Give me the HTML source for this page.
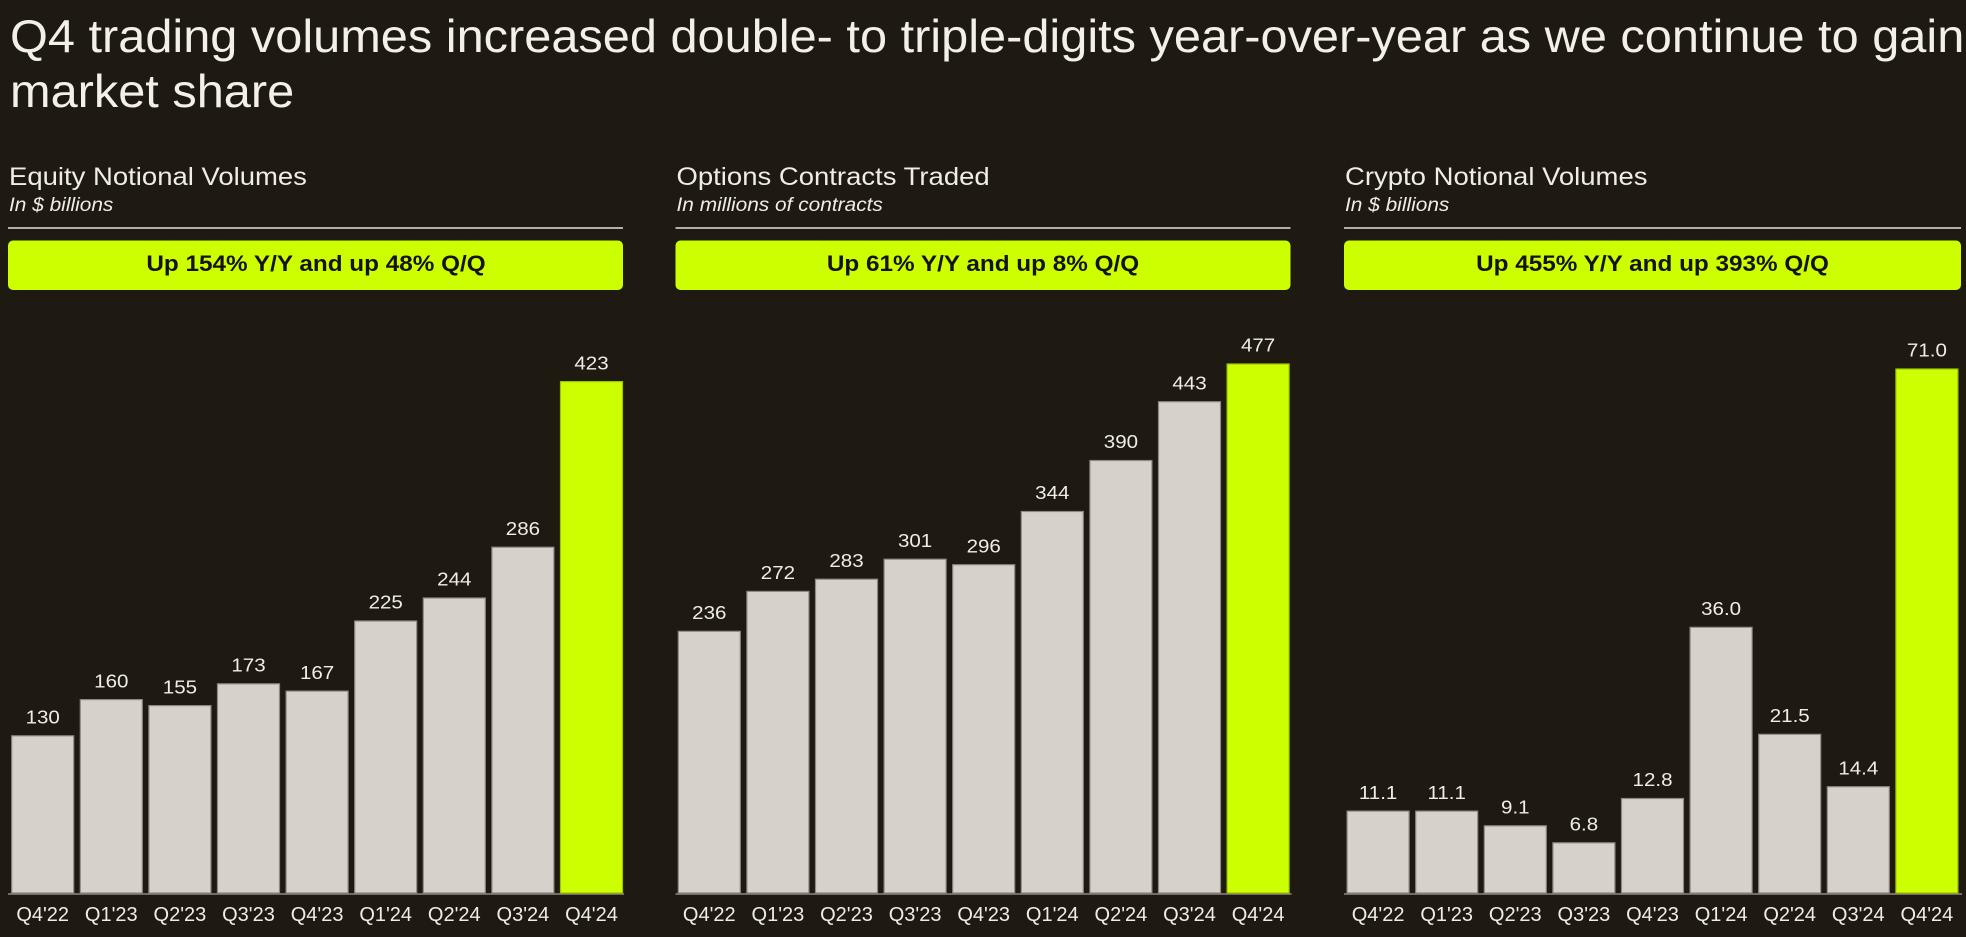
<!DOCTYPE html>
<html><head><meta charset="utf-8">
<style>
html,body{margin:0;padding:0;background:#1e1911;}
svg{display:block;}
text{font-family:"Liberation Sans",Arial,sans-serif;}
</style></head>
<body>
<svg width="1966" height="937" viewBox="0 0 1966 937" xmlns="http://www.w3.org/2000/svg">
<rect x="0" y="0" width="1966" height="937" fill="#1e1911"/>
<!-- Title -->
<g fill="#f3f0ea">
<text transform="translate(10,52) scale(1.059,1)" font-size="46">Q4 trading volumes increased double- to triple-digits year-over-year as we continue to gain</text>
<text transform="translate(10,107) scale(1.059,1)" font-size="46">market share</text>
</g>
<!-- Headers -->
<g fill="#f0ede7">
<text transform="translate(9,185) scale(1.1,1)" font-size="25">Equity Notional Volumes</text>
<text transform="translate(9,211) scale(1.07,1)" font-size="19.5" font-style="italic">In $ billions</text>
<text transform="translate(676.5,185) scale(1.1,1)" font-size="25">Options Contracts Traded</text>
<text transform="translate(676.5,211) scale(1.07,1)" font-size="19.5" font-style="italic">In millions of contracts</text>
<text transform="translate(1345,185) scale(1.1,1)" font-size="25">Crypto Notional Volumes</text>
<text transform="translate(1345,211) scale(1.07,1)" font-size="19.5" font-style="italic">In $ billions</text>
</g>
<!-- Rules -->
<g fill="#b3afa7">
<rect x="8" y="227" width="615" height="2"/>
<rect x="675.5" y="227" width="615" height="2"/>
<rect x="1344" y="227" width="617" height="2"/>
</g>
<!-- Boxes -->
<g fill="#ccff00">
<rect x="8" y="240.5" width="615" height="49.5" rx="5"/>
<rect x="675.5" y="240.5" width="615" height="49.5" rx="5"/>
<rect x="1344" y="240.5" width="617" height="49.5" rx="5"/>
</g>
<g fill="#15120a" font-weight="bold" font-size="22.5" text-anchor="middle">
<text transform="translate(316,271) scale(1.08,1)">Up 154% Y/Y and up 48% Q/Q</text>
<text transform="translate(983,271) scale(1.08,1)">Up 61% Y/Y and up 8% Q/Q</text>
<text transform="translate(1652.5,271) scale(1.08,1)">Up 455% Y/Y and up 393% Q/Q</text>
</g>
<!-- Axis lines -->
<g fill="#716d66">
<rect x="8" y="893" width="616" height="2"/>
<rect x="675.5" y="893" width="616" height="2"/>
<rect x="1344" y="893" width="618" height="2"/>
</g>
<!-- Chart 1 bars -->
<g fill="#d6d1cb" stroke="#8e8982" stroke-width="1.2">
<rect x="11.7" y="735.8" width="62" height="157.2"/>
<rect x="80.3" y="699.6" width="62" height="193.4"/>
<rect x="148.9" y="705.6" width="62" height="187.4"/>
<rect x="217.5" y="683.8" width="62" height="209.2"/>
<rect x="286.1" y="691.1" width="62" height="201.9"/>
<rect x="354.7" y="621.0" width="62" height="272.0"/>
<rect x="423.3" y="598.0" width="62" height="295.0"/>
<rect x="491.9" y="547.2" width="62" height="345.8"/>
</g>
<rect x="560.5" y="381.6" width="62" height="511.4" fill="#ccff00" stroke="#9fc400" stroke-width="1.2"/>
<!-- Chart 2 bars -->
<g fill="#d6d1cb" stroke="#8e8982" stroke-width="1.2">
<rect x="678.3" y="631.3" width="62" height="261.7"/>
<rect x="746.9" y="591.4" width="62" height="301.6"/>
<rect x="815.5" y="579.2" width="62" height="313.8"/>
<rect x="884.1" y="559.2" width="62" height="333.8"/>
<rect x="952.7" y="564.7" width="62" height="328.3"/>
<rect x="1021.3" y="511.5" width="62" height="381.5"/>
<rect x="1089.9" y="460.5" width="62" height="432.5"/>
<rect x="1158.5" y="401.7" width="62" height="491.3"/>
</g>
<rect x="1227.1" y="364.0" width="62" height="529.0" fill="#ccff00" stroke="#9fc400" stroke-width="1.2"/>
<!-- Chart 3 bars -->
<g fill="#d6d1cb" stroke="#8e8982" stroke-width="1.2">
<rect x="1347.1" y="811.1" width="62" height="81.9"/>
<rect x="1415.7" y="811.1" width="62" height="81.9"/>
<rect x="1484.3" y="825.8" width="62" height="67.2"/>
<rect x="1552.9" y="842.8" width="62" height="50.2"/>
<rect x="1621.5" y="798.5" width="62" height="94.5"/>
<rect x="1690.1" y="627.3" width="62" height="265.7"/>
<rect x="1758.7" y="734.3" width="62" height="158.7"/>
<rect x="1827.3" y="786.7" width="62" height="106.3"/>
</g>
<rect x="1895.9" y="369.0" width="62" height="524.0" fill="#ccff00" stroke="#9fc400" stroke-width="1.2"/>
<!-- Value labels -->
<g fill="#f0ede7" font-size="18.5" text-anchor="middle">
<text transform="translate(42.7,723.5) scale(1.11,1)">130</text>
<text transform="translate(111.3,687.3) scale(1.11,1)">160</text>
<text transform="translate(179.9,693.3) scale(1.11,1)">155</text>
<text transform="translate(248.5,671.5) scale(1.11,1)">173</text>
<text transform="translate(317.1,678.8) scale(1.11,1)">167</text>
<text transform="translate(385.7,608.7) scale(1.11,1)">225</text>
<text transform="translate(454.3,585.7) scale(1.11,1)">244</text>
<text transform="translate(522.9,534.9) scale(1.11,1)">286</text>
<text transform="translate(591.5,369.3) scale(1.11,1)">423</text>

<text transform="translate(709.3,619.0) scale(1.11,1)">236</text>
<text transform="translate(777.9,579.1) scale(1.11,1)">272</text>
<text transform="translate(846.5,566.9) scale(1.11,1)">283</text>
<text transform="translate(915.1,546.9) scale(1.11,1)">301</text>
<text transform="translate(983.7,552.4) scale(1.11,1)">296</text>
<text transform="translate(1052.3,499.2) scale(1.11,1)">344</text>
<text transform="translate(1120.9,448.2) scale(1.11,1)">390</text>
<text transform="translate(1189.5,389.4) scale(1.11,1)">443</text>
<text transform="translate(1258.1,351.7) scale(1.11,1)">477</text>

<text transform="translate(1378.1,798.8) scale(1.11,1)">11.1</text>
<text transform="translate(1446.7,798.8) scale(1.11,1)">11.1</text>
<text transform="translate(1515.3,813.5) scale(1.11,1)">9.1</text>
<text transform="translate(1583.9,830.5) scale(1.11,1)">6.8</text>
<text transform="translate(1652.5,786.2) scale(1.11,1)">12.8</text>
<text transform="translate(1721.1,615.0) scale(1.11,1)">36.0</text>
<text transform="translate(1789.7,722.0) scale(1.11,1)">21.5</text>
<text transform="translate(1858.3,774.4) scale(1.11,1)">14.4</text>
<text transform="translate(1926.9,356.7) scale(1.11,1)">71.0</text>
</g>
<!-- X labels -->
<g fill="#f0ede7" font-size="20" text-anchor="middle">
<text x="42.7" y="921">Q4'22</text>
<text x="111.3" y="921">Q1'23</text>
<text x="179.9" y="921">Q2'23</text>
<text x="248.5" y="921">Q3'23</text>
<text x="317.1" y="921">Q4'23</text>
<text x="385.7" y="921">Q1'24</text>
<text x="454.3" y="921">Q2'24</text>
<text x="522.9" y="921">Q3'24</text>
<text x="591.5" y="921">Q4'24</text>

<text x="709.3" y="921">Q4'22</text>
<text x="777.9" y="921">Q1'23</text>
<text x="846.5" y="921">Q2'23</text>
<text x="915.1" y="921">Q3'23</text>
<text x="983.7" y="921">Q4'23</text>
<text x="1052.3" y="921">Q1'24</text>
<text x="1120.9" y="921">Q2'24</text>
<text x="1189.5" y="921">Q3'24</text>
<text x="1258.1" y="921">Q4'24</text>

<text x="1378.1" y="921">Q4'22</text>
<text x="1446.7" y="921">Q1'23</text>
<text x="1515.3" y="921">Q2'23</text>
<text x="1583.9" y="921">Q3'23</text>
<text x="1652.5" y="921">Q4'23</text>
<text x="1721.1" y="921">Q1'24</text>
<text x="1789.7" y="921">Q2'24</text>
<text x="1858.3" y="921">Q3'24</text>
<text x="1926.9" y="921">Q4'24</text>
</g>
</svg>
</body></html>
